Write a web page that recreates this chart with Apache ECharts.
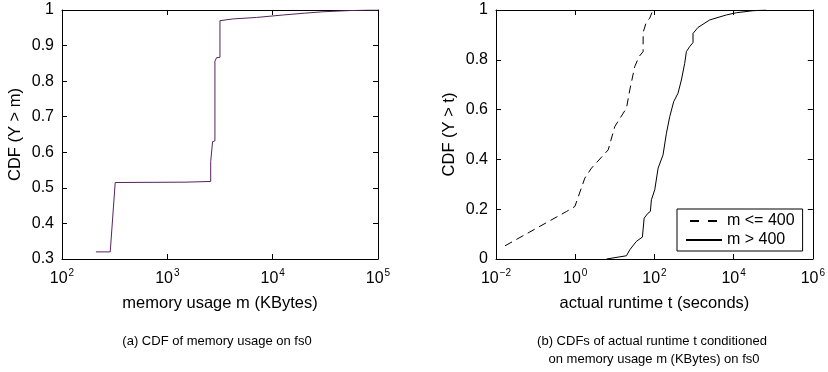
<!DOCTYPE html>
<html>
<head>
<meta charset="utf-8">
<script src="https://cdn.jsdelivr.net/npm/echarts@6/dist/echarts.min.js"></script>
<style>
html,body{margin:0;padding:0;background:#fff;}
#c{width:828px;height:372px;}
</style>
</head>
<body>
<div id="c"></div>
<script>
// ---- Data ----
// (a) CDF of memory usage (KBytes)
const memX = [210, 287, 320, 1470, 2580, 2580, 2690, 2690, 2830, 2830, 2935, 3160, 3160, 4230, 7000, 12600, 20000, 30000, 50000, 80000, 100000];
const memY = [0.32, 0.32, 0.515, 0.516, 0.518, 0.574, 0.575, 0.63, 0.632, 0.856, 0.866, 0.867, 0.97, 0.975, 0.979, 0.986, 0.991, 0.995, 0.998, 1.0, 1.0];

// (b) runtime CDF, m <= 400 (seconds)
const smallX = [0.0169, 0.605, 0.982, 1.75, 2.58, 6.8, 10, 19.7, 23.9, 31.9, 41, 51.8, 52, 62.8, 76, 92];
const smallY = [0.053, 0.191, 0.211, 0.325, 0.365, 0.438, 0.532, 0.606, 0.679, 0.773, 0.813, 0.833, 0.91, 0.953, 0.967, 1.0];

// (b) runtime CDF, m > 400 (seconds)
const largeX = [6.2, 19.7, 23.9, 35.2, 49.8, 55, 69, 79, 84, 102, 124, 165, 201, 244, 307, 395, 480, 582, 641, 778, 944, 944, 1262, 2483, 6530, 11670, 30690, 66000];
const largeY = [0, 0.013, 0.037, 0.071, 0.088, 0.164, 0.184, 0.191, 0.238, 0.278, 0.365, 0.418, 0.505, 0.572, 0.632, 0.666, 0.719, 0.786, 0.833, 0.853, 0.869, 0.906, 0.930, 0.960, 0.980, 0.989, 0.997, 1.0];

const seriesNames = ['m <= 400', 'm > 400'];
const leftYTicks = {min: 0.3, max: 1, interval: 0.1};
const rightYTicks = {min: 0, max: 1, interval: 0.2};
const leftXRange = {min: 1e2, max: 1e5};
const rightXRange = {min: 1e-2, max: 1e6};

const titles = {
  ax: 'memory usage m (KBytes)',
  ay: 'CDF (Y > m)',
  bx: 'actual runtime t (seconds)',
  by: 'CDF (Y > t)',
  capA: '(a) CDF of memory usage on fs0',
  capB1: '(b) CDFs of actual runtime t conditioned',
  capB2: 'on memory usage m (KBytes) on fs0'
};

// ---- Chart ----
const FONT = '"Liberation Sans", Arial, Helvetica, sans-serif';
const pair = (xs, ys) => xs.map((x, i) => [x, ys[i]]);

function powLabel(v) {
  const e = Math.round(Math.log10(v));
  const es = e < 0 ? '\u2212' + (-e) : String(e);
  return '{b|10}{s|' + es + '}';
}
const powRich = {
  b: {fontSize: 16, fontFamily: FONT, color: '#000'},
  s: {fontSize: 10, fontFamily: FONT, color: '#000', padding: [0, 0, 12, 1]}
};
const decFmt = v => String(+v.toFixed(1));

function boxAxes(gridIndex, isX, range, extra) {
  return Object.assign({
    gridIndex: gridIndex,
    position: isX ? 'top' : 'right',
    axisLine: {show: true, onZero: false, lineStyle: {color: '#000', width: 1}},
    axisTick: {show: true, inside: true, length: 5, lineStyle: {color: '#000'}},
    axisLabel: {show: false},
    splitLine: {show: false}
  }, range, extra || {});
}

const chart = echarts.init(document.getElementById('c'), null, {renderer: 'canvas'});
const option = {
  animation: false,
  backgroundColor: '#fff',
  textStyle: {fontFamily: FONT},
  grid: [
    {left: 62, right: 450, top: 10, bottom: 113},
    {left: 496, right: 15, top: 10, bottom: 113}
  ],
  xAxis: [
    Object.assign({
      type: 'log', logBase: 10, gridIndex: 0, position: 'bottom',
      name: titles.ax, nameLocation: 'middle', nameGap: 36,
      nameTextStyle: {fontSize: 16.5, color: '#000', fontFamily: FONT},
      axisLine: {show: true, onZero: false, lineStyle: {color: '#000', width: 1}},
      axisTick: {show: true, inside: true, length: 5, lineStyle: {color: '#000'}},
      axisLabel: {formatter: powLabel, rich: powRich, margin: 9},
      splitLine: {show: false}
    }, leftXRange),
    Object.assign({
      type: 'log', logBase: 10, gridIndex: 1, position: 'bottom', interval: 2,
      name: titles.bx, nameLocation: 'middle', nameGap: 36,
      nameTextStyle: {fontSize: 16.5, color: '#000', fontFamily: FONT},
      axisLine: {show: true, onZero: false, lineStyle: {color: '#000', width: 1}},
      axisTick: {show: true, inside: true, length: 5, lineStyle: {color: '#000'}},
      axisLabel: {formatter: powLabel, rich: powRich, margin: 9},
      splitLine: {show: false}
    }, rightXRange),
    boxAxes(0, true, leftXRange, {type: 'log', logBase: 10}),
    boxAxes(1, true, rightXRange, {type: 'log', logBase: 10, interval: 2})
  ],
  yAxis: [
    Object.assign({
      type: 'value', gridIndex: 0, position: 'left',
      name: titles.ay, nameLocation: 'middle', nameGap: 38,
      nameTextStyle: {fontSize: 16.5, color: '#000', fontFamily: FONT},
      axisLine: {show: true, onZero: false, lineStyle: {color: '#000', width: 1}},
      axisTick: {show: true, inside: true, length: 5, lineStyle: {color: '#000'}},
      axisLabel: {formatter: decFmt, fontSize: 16, color: '#000', margin: 8},
      splitLine: {show: false}
    }, leftYTicks),
    Object.assign({
      type: 'value', gridIndex: 1, position: 'left',
      name: titles.by, nameLocation: 'middle', nameGap: 38,
      nameTextStyle: {fontSize: 16.5, color: '#000', fontFamily: FONT},
      axisLine: {show: true, onZero: false, lineStyle: {color: '#000', width: 1}},
      axisTick: {show: true, inside: true, length: 5, lineStyle: {color: '#000'}},
      axisLabel: {formatter: decFmt, fontSize: 16, color: '#000', margin: 8},
      splitLine: {show: false}
    }, rightYTicks),
    boxAxes(0, false, leftYTicks, {type: 'value'}),
    boxAxes(1, false, rightYTicks, {type: 'value'})
  ],
  legend: {
    show: true,
    left: 677, top: 209,
    orient: 'vertical',
    data: [
      {name: seriesNames[0], lineStyle: {type: [9, 9], dashOffset: -4}},
      {name: seriesNames[1]}
    ],
    backgroundColor: '#fff',
    borderColor: '#000', borderWidth: 1, borderRadius: 0,
    padding: [4, 8, 3, 8],
    itemGap: 3,
    itemWidth: 36, itemHeight: 14,
    itemStyle: {opacity: 0},
    textStyle: {fontSize: 16, color: '#000', fontFamily: FONT}
  },
  series: [
    {
      name: 'memory', type: 'line', xAxisIndex: 0, yAxisIndex: 0,
      data: pair(memX, memY), symbol: 'none',
      lineStyle: {color: '#55245a', width: 1}
    },
    {
      name: seriesNames[0], type: 'line', xAxisIndex: 1, yAxisIndex: 1,
      data: pair(smallX, smallY), symbol: 'none', color: '#000',
      lineStyle: {color: '#000', width: 1, type: [8, 5]}
    },
    {
      name: seriesNames[1], type: 'line', xAxisIndex: 1, yAxisIndex: 1,
      data: pair(largeX, largeY), symbol: 'none', color: '#000',
      lineStyle: {color: '#000', width: 1}
    }
  ],
  graphic: [
    {type: 'text', x: 217, y: 341, style: {text: titles.capA, textAlign: 'center', textVerticalAlign: 'middle', font: '13px ' + FONT, fill: '#000'}},
    {type: 'text', x: 652, y: 341, style: {text: titles.capB1, textAlign: 'center', textVerticalAlign: 'middle', font: '13px ' + FONT, fill: '#000'}},
    {type: 'text', x: 654, y: 359, style: {text: titles.capB2, textAlign: 'center', textVerticalAlign: 'middle', font: '13px ' + FONT, fill: '#000'}}
  ]
};
chart.setOption(option);
</script>
</body>
</html>
